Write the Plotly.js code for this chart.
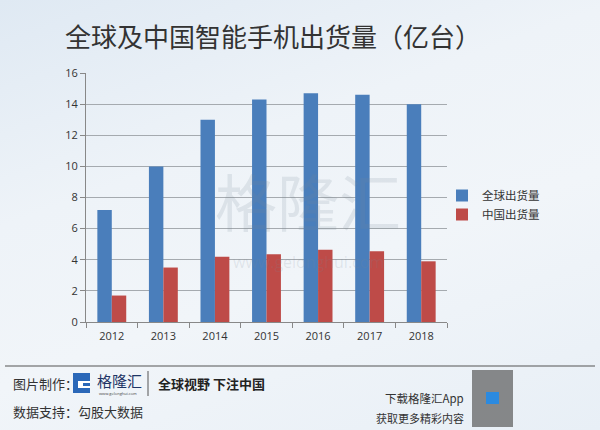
<!DOCTYPE html>
<html>
<head>
<meta charset="utf-8">
<script src="https://cdn.plot.ly/plotly-3.0.1.min.js"></script>
<style>
html,body{margin:0;padding:0;}
body{width:600px;height:430px;background:linear-gradient(160deg,#dfe9f3 0%,#eef3f8 35%,#f1f5f9 60%,#e8eff6 100%);}
#chart{width:600px;height:430px;}
</style>
</head>
<body>
<div id="chart"></div>
<script>
const years = ['2012','2013','2014','2015','2016','2017','2018'];
const globalShip = [7.2, 10.0, 13.0, 14.3, 14.7, 14.6, 14.0];
const chinaShip = [1.7, 3.5, 4.2, 4.35, 4.65, 4.55, 3.9];
const seriesNames = ['全球出货量','中国出货量'];
const yTicks = [0,2,4,6,8,10,12,14,16];

const cjk = '"Noto Sans CJK SC", "Noto Sans", sans-serif';
const W = 361, H = 249, L0 = 86, B0 = 322;
const px = x => (x - L0) / W;
const py = y => (B0 - y) / H;

function note(text, x, y, xa, size, color, fam) {
  return {text, xref:'paper', yref:'paper', x:px(x), y:py(y), xanchor:xa, yanchor:'middle',
          showarrow:false, font:{family:fam || cjk, size, color}};
}

const data = [
  {type:'bar', x: years, y: globalShip, name: seriesNames[0], marker:{color:'#4a7ebb'}},
  {type:'bar', x: years, y: chinaShip, name: seriesNames[1], marker:{color:'#be4b48'}}
];

const layout = {
  width:600, height:430,
  margin:{l:86, r:153, t:73, b:108},
  paper_bgcolor:'rgba(0,0,0,0)',
  plot_bgcolor:'rgba(0,0,0,0)',
  barmode:'group', bargap:0.44, bargroupgap:0,
  font:{family:cjk, color:'#333', size:11},
  title:{text:'全球及中国智能手机出货量（亿台）', x:273/600, xanchor:'center', y:1-38/430, yanchor:'middle',
         font:{family:cjk, size:26, color:'#333'}},
  xaxis:{type:'category', showline:true, linecolor:'#888', linewidth:1, ticks:'outside', tickson:'boundaries',
         ticklen:5, tickcolor:'#888', ticklabelstandoff:4,
         tickfont:{size:11, color:'#333', family:'"Open Sans", sans-serif'}, showgrid:false},
  yaxis:{range:[0,16], tickvals:yTicks, showline:true, linecolor:'#888', ticks:'outside', ticklen:5, tickcolor:'#888',
         showgrid:true, gridcolor:'#a5aaaf', gridwidth:1, zeroline:false,
         tickfont:{size:11, color:'#333', family:'"Open Sans", sans-serif'}},
  legend:{x:px(442), y:py(205), xanchor:'left', yanchor:'middle', bgcolor:'rgba(0,0,0,0)',
          font:{size:11.5, color:'#333', family:cjk}, itemwidth:30, tracegroupgap:0},
  shapes:[
    {type:'line', xref:'paper', yref:'paper', x0:px(5), x1:px(595), y0:py(366), y1:py(366), line:{color:'#555', width:1.2}},
    {type:'rect', xref:'paper', yref:'paper', x0:px(73), x1:px(90), y0:py(393), y1:py(373), fillcolor:'#2b68b8', line:{width:0}},
    {type:'rect', xref:'paper', yref:'paper', x0:px(78), x1:px(90), y0:py(388), y1:py(381), fillcolor:'#ffffff', line:{width:0}},
    {type:'rect', xref:'paper', yref:'paper', x0:px(83), x1:px(90), y0:py(386), y1:py(383), fillcolor:'#2b68b8', line:{width:0}},
    {type:'line', xref:'paper', yref:'paper', x0:px(148), x1:px(148), y0:py(371), y1:py(396), line:{color:'#555', width:1}},
    {type:'rect', xref:'paper', yref:'paper', x0:px(472), x1:px(513), y0:py(427), y1:py(370), fillcolor:'#5a5a5a', line:{width:0}, opacity:0.7},
    {type:'rect', xref:'paper', yref:'paper', x0:px(486), x1:px(499), y0:py(404), y1:py(392), fillcolor:'#2b8ae0', line:{width:0}}
  ],
  annotations:[
    note('格隆汇', 308, 200, 'center', 62, 'rgba(120,135,150,0.16)'),
    note('www.gelonghui.com', 308, 262, 'center', 16, 'rgba(120,135,150,0.16)', '"Open Sans", sans-serif'),
    note('图片制作：', 11, 383, 'left', 13, '#333'),
    note('格隆汇', 95, 380, 'left', 15, '#1e3566'),
    note('www.gelonghui.com', 97, 393, 'left', 4, '#444', '"Open Sans", sans-serif'),
    note('<b>全球视野 下注中国</b>', 156, 383, 'left', 13, '#222'),
    note('数据支持：勾股大数据', 11, 411, 'left', 13, '#333'),
    note('下载格隆汇App', 466, 398, 'right', 11.5, '#333'),
    note('获取更多精彩内容', 466, 418, 'right', 11, '#333')
  ]
};

Plotly.newPlot('chart', data, layout, {displayModeBar:false, staticPlot:true});
</script>
</body>
</html>
